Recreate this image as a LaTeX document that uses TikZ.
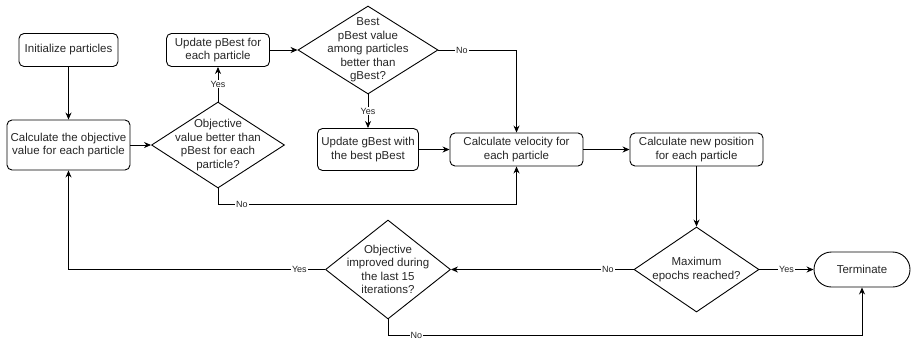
\documentclass[tikz,border=0pt]{standalone}
\usepackage{fontspec}
\setmainfont{Liberation Sans}
\usetikzlibrary{shapes.geometric,arrows.meta}
\begin{document}
\begin{tikzpicture}[x=1pt, y=-1pt, line width=0.9pt, >={Stealth[length=7pt,width=6pt]},
                    every node/.style={font=\fontsize{11.5}{13.5}\selectfont, text=black!85},
                    procbox/.style={draw, rectangle, rounded corners=5pt, align=center, inner sep=0pt},
                    decision/.style={draw, shape=diamond, align=center, inner sep=-30pt},
                    answer/.style={fill=white, inner sep=1pt, font=\fontsize{9}{10}\selectfont}]
                  \useasboundingbox (0,0) rectangle (912,341);
                  \node[procbox, minimum width=99pt, minimum height=33pt] (init) at (68.5,50) {Initialize particles};
                  \node[procbox, minimum width=123pt, minimum height=50pt] (calc) at (68.5,145) {Calculate the objective\\value for each particle};
                  \node[decision, minimum width=133pt, minimum height=86pt] (better) at (218,145) {Objective\\value better than\\pBest for each\\particle?};
                  \node[procbox, minimum width=103pt, minimum height=33pt] (pbest) at (218,50) {Update pBest for\\each particle};
                  \node[decision, minimum width=140pt, minimum height=88pt] (best) at (368,50) {Best\\pBest value\\among particles\\better than\\gBest?};
                  \node[procbox, minimum width=101pt, minimum height=42pt] (gbest) at (368,149.5) {Update gBest with\\the best pBest};
                  \node[procbox, minimum width=133pt, minimum height=33pt] (vel) at (516.5,149.5) {Calculate velocity for\\each particle};
                  \node[procbox, minimum width=133pt, minimum height=33pt] (pos) at (696.5,149.5) {Calculate new position\\for each particle};
                  \node[decision, minimum width=125pt, minimum height=85pt] (maxep) at (696.5,269.5) {Maximum\\epochs reached?};
                  \node[procbox, rounded corners=17.5pt, minimum width=96pt, minimum height=35pt] (term) at (862,269.5) {Terminate};
                  \node[decision, minimum width=125pt, minimum height=99pt] (impr) at (388,269.5) {Objective\\improved during\\the last 15\\iterations?};
                  \draw[->] (init) -- (calc);
                  \draw[->] (calc) -- (better);
                  \draw[->] (better) -- node[answer] {Yes} (pbest);
                  \draw[->] (pbest) -- (best);
                  \draw[->] (best) -- node[answer] {Yes} (gbest);
                  \draw[->] (best.east) -| node[answer, pos=0.15] {No} (vel.north);
                  \draw[->] (better.south) -- ++(0,16) -| node[answer, pos=0.04] {No} (vel.south);
                  \draw[->] (gbest) -- (vel);
                  \draw[->] (vel) -- (pos);
                  \draw[->] (pos) -- (maxep);
                  \draw[->] (maxep) -- node[answer] {Yes} (term);
                  \draw[->] (maxep.west) -- node[answer, pos=0.14] {No} (impr.east);
                  \draw[->] (impr.west) -| node[answer, pos=0.05] {Yes} (calc.south);
                  \draw[->] (impr.south) -- ++(0,16) -| node[answer, pos=0.03] {No} (term.south);
              \end{tikzpicture}
\end{document}
